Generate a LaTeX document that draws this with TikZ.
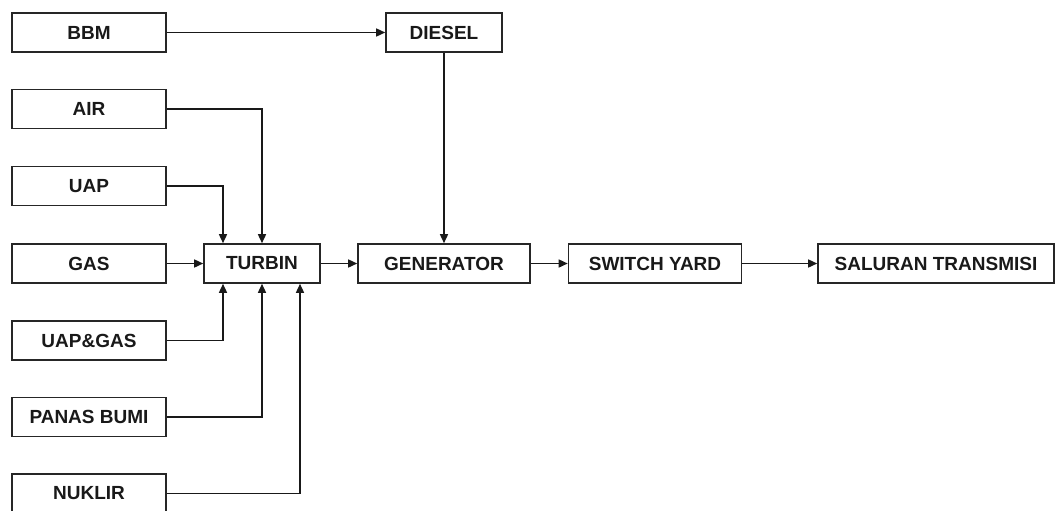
\documentclass[tikz,border=0pt]{standalone}
\usepackage{fontspec}
\setmainfont{Liberation Sans}
\usetikzlibrary{arrows.meta}
\begin{document}
\begin{tikzpicture}[x=1pt,y=-1pt,
  blk/.style={draw=black!85,line width=1.6pt,inner sep=0pt,minimum height=39pt,
    font=\fontsize{19}{21}\selectfont\bfseries,text=black!90},
  src/.style={blk,minimum width=154pt},
  conn/.style={line width=1.5pt,black!90,-{Triangle[length=9pt,width=8pt]}}]
\useasboundingbox (0,0) rectangle (1057,511);
\node[src] (bbm) at (89,32.5) {BBM};
\node[src] (air) at (89,109) {AIR};
\node[src] (uap) at (89,186) {UAP};
\node[src] (gas) at (89,263.5) {GAS};
\node[src] (uapgas) at (89,340.5) {UAP\&GAS};
\node[src] (panas) at (89,417) {PANAS BUMI};
\node[src] (nuklir) at (89,493.5) {NUKLIR};
\node[blk,minimum width=116pt] (diesel) at (444,32.5) {DIESEL};
\node[blk,minimum width=116pt] (turbin) at (262,263.5) {TURBIN};
\node[blk,minimum width=172pt] (gen) at (444,263.5) {GENERATOR};
\node[blk,minimum width=173pt] (sw) at (655,263.5) {SWITCH YARD};
\node[blk,minimum width=236pt] (sal) at (936,263.5) {SALURAN TRANSMISI};
\draw[conn] (bbm) -- (diesel);
\draw[conn] (diesel) -- (gen);
\draw[conn] (air.east) -| (turbin.north);
\draw[conn] (uap.east) -| ([xshift=-39pt]turbin.north);
\draw[conn] (gas) -- (turbin);
\draw[conn] (uapgas.east) -| ([xshift=-39pt]turbin.south);
\draw[conn] (panas.east) -| (turbin.south);
\draw[conn] (nuklir.east) -| ([xshift=38pt]turbin.south);
\draw[conn] (turbin) -- (gen);
\draw[conn] (gen) -- (sw);
\draw[conn] (sw) -- (sal);
\end{tikzpicture}
\end{document}
